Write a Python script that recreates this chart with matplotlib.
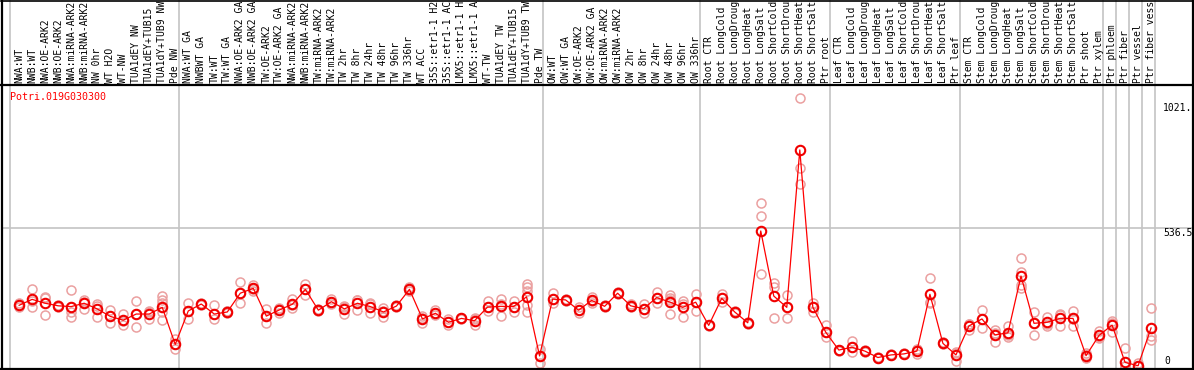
import matplotlib
matplotlib.use('Agg')
import matplotlib.pyplot as plt
from matplotlib.lines import Line2D
from matplotlib.transforms import blended_transform_factory as btf

title = "Potri.019G030300"

labels = [
    "NWA:WT", "NWB:WT", "NWA:OE-ARK2", "NWB:OE-ARK2", "NWA:miRNA-ARK2", "NWB:miRNA-ARK2",
    "NW 0hr", "WT H2O", "WT-NW", "TUA1dEY NW", "TUA1dEY+TUB15", "TUA1dY+TUB9 NW", "Pde NW",
    "NWA:WT GA", "NWBWT GA", "TW:WT", "TW:WT GA", "NWA:OE-ARK2 GA", "NWB:OE-ARK2 GA",
    "TW:OE-ARK2", "TW:OE-ARK2 GA", "NWA:miRNA-ARK2", "NWB:miRNA-ARK2", "TW:miRNA-ARK2",
    "TW:miRNA-ARK2", "TW 2hr", "TW 8hr", "TW 24hr", "TW 48hr", "TW 96hr", "TW 336hr",
    "WT ACC", "35S::etr1-1 H2", "35S::etr1-1 AC", "LMX5::etr1-1 H", "LMX5::etr1-1 A",
    "WT-TW", "TUA1dEY TW", "TUA1dEY+TUB15", "TUA1dY+TUB9 TW", "Pde TW",
    "OW:WT", "OW:WT GA", "OW:OE-ARK2", "OW:OE-ARK2 GA", "OW:miRNA-ARK2", "OW:miRNA-ARK2",
    "OW 2hr", "OW 8hr", "OW 24hr", "OW 48hr", "OW 96hr", "OW 336hr",
    "Root CTR", "Root LongCold", "Root LongDroug", "Root LongHeat", "Root LongSalt",
    "Root ShortCold", "Root ShortDrou", "Root ShortHeat", "Root ShortSalt", "Ptr root",
    "Leaf CTR", "Leaf LongCold", "Leaf LongDroug", "Leaf LongHeat", "Leaf LongSalt",
    "Leaf ShortCold", "Leaf ShortDrou", "Leaf ShortHeat", "Leaf ShortSalt", "Ptr leaf",
    "Stem CTR", "Stem LongCold", "Stem LongDroug", "Stem LongHeat", "Stem LongSalt",
    "Stem ShortCold", "Stem ShortDrou", "Stem ShortHeat", "Stem ShortSalt", "Ptr shoot",
    "Ptr xylem", "Ptr phloem", "Ptr fiber", "Ptr vessel", "Ptr fiber vess",
]

means = [
    236, 259, 244, 234, 231, 244, 222, 193, 178, 202, 202, 228, 84,
    214, 241, 202, 210, 283, 302, 194, 218, 240, 298, 217, 250, 222, 244, 231, 210, 233,
    298, 183, 205, 170, 185, 176, 229, 232, 231, 269, 39,
    260, 257, 217, 255, 232, 283, 234, 223, 266, 249, 228, 248,
    158, 263, 210, 168, 525, 272, 228, 840, 229, 131,
    62, 73, 58, 33, 43, 47, 58, 279, 88, 43,
    156, 183, 121, 129, 350, 166, 170, 185, 185, 40, 119,
    159, 14, 1, 148,
]

replicates = [
    [245, 236, 229], [298, 252, 228], [269, 263, 198], [238, 230], [295, 228, 209, 192],
    [257, 250, 222], [240, 233, 192], [218, 193, 168], [202, 174, 159], [253, 202, 153],
    [214, 210, 182], [273, 257, 244, 228, 211, 178], [104, 84, 65],
    [244, 214, 183], [245, 240, 238], [236, 202, 183], [215, 212, 205], [325, 283, 244],
    [315, 300, 292], [220, 194, 166], [226, 220, 205], [259, 236, 225], [319, 298, 276],
    [220, 217, 214], [259, 250, 241], [233, 230, 201], [257, 255, 218], [241, 245, 207],
    [224, 214, 192], [236, 233, 229], [308, 298, 290], [196, 187, 166], [218, 205, 198],
    [183, 170, 159], [188, 185, 182], [185, 183, 159], [253, 229, 214], [260, 240, 194],
    [253, 230, 211], [318, 306, 293, 269, 237, 211], [65, 39, 10],
    [283, 260, 245], [262, 258, 252], [228, 218, 205], [269, 252, 245], [236, 232, 228],
    [288, 283, 279], [241, 234, 228], [241, 222, 207], [288, 266, 246], [276, 263, 255, 201],
    [254, 240, 189], [279, 250, 214],
    [161, 158, 155], [280, 263, 250], [213, 210, 207], [171, 168, 165], [633, 583, 358],
    [322, 308, 187], [276, 228, 187], [1041, 769, 708], [244, 229, 211], [158, 131, 114],
    [64, 62, 58], [97, 73, 53], [62, 58, 54], [35, 33, 31], [45, 43, 41], [49, 47, 45],
    [66, 62, 45], [341, 250, 246], [92, 88, 84], [54, 52, 21],
    [165, 163, 140], [218, 183, 149], [140, 129, 94], [156, 120, 112], [419, 364, 315, 302],
    [209, 168, 121], [192, 162, 156], [201, 197, 157], [215, 183, 157], [49, 41, 30],
    [136, 113, 108],
    [175, 168, 133], [71, 0, 0], [13, 1, 0], [227, 118, 101],
]

group_bounds = [0, 13, 41, 53, 63, 73, 84, 85, 86, 87, 88]
ytick_values = [1021, 536.5, 0]
ytick_texts = ["1021.", "536.5", "0"]

W, H = 1194, 370
fig = plt.figure(figsize=(W / 100, H / 100), dpi=100)
fig.patch.set_facecolor('white')

x0, x1 = 10, 1155
ytop, ybot = 86, 368
ax = fig.add_axes([x0 / W, (H - ybot) / H, (x1 - x0) / W, (ybot - ytop) / H])
n = len(labels)
ax.set_xlim(0, n)
scale = (366 - 228) / 536.5
ax.set_ylim(-(368 - 366) / scale, (366 - 86) / scale)
ax.axis('off')

xs = [i + 0.7 for i in range(n)]

grid_c = '#c4c4c4'
tr_v = btf(ax.transData, fig.transFigure)
for b in group_bounds:
    fig.add_artist(Line2D([b, b], [0, 1], transform=tr_v, color=grid_c, lw=1.2, zorder=0))

tr_h = btf(fig.transFigure, ax.transData)
fig.add_artist(Line2D([2 / W, 1192 / W], [536.5, 536.5], transform=tr_h, color=grid_c, lw=1.2, zorder=0))

# replicate points
rx, ry = [], []
for x, reps in zip(xs, replicates):
    for r in reps:
        rx.append(x)
        ry.append(r)
ax.plot(rx, ry, 'o', mfc='none', mec='#eba0a0', ms=6.5, mew=1.1, ls='none', zorder=2, clip_on=False)

# mean line and points
ax.plot(xs, means, '-', color='#ff0000', lw=0.9, zorder=3)
ax.plot(xs, means, 'o', mfc='none', mec='#f00000', ms=6.8, mew=1.5, ls='none', zorder=4, clip_on=False)

# category labels
tr_lab = btf(ax.transData, fig.transFigure)
for x, lab in zip(xs, labels):
    fig.text(x, (H - 83) / H, lab, transform=tr_lab, rotation=90, ha='center', va='bottom',
             family='DejaVu Sans Mono', fontsize=7, color='black')

# title
fig.text(10 / W, (H - 97) / H, title, ha='left', va='center', family='DejaVu Sans Mono',
         fontsize=7.2, color='#ff0000')

# right axis labels
tr_r = btf(fig.transFigure, ax.transData)
for v, t in zip(ytick_values, ytick_texts):
    xx = 1163 / W if t != "0" else 1164 / W
    fig.text(xx, v, t, transform=tr_r, ha='left', va='top' if v > 0 else 'bottom',
             family='DejaVu Sans Mono', fontsize=7, color='black')

# borders
def hline(y, xa=1, xb=1193, lw=1.6):
    fig.add_artist(Line2D([xa / W, xb / W], [(H - y) / H, (H - y) / H], transform=fig.transFigure,
                          color='black', lw=lw, zorder=5))

def vline(x, ya=0, yb=369, lw=1.6):
    fig.add_artist(Line2D([x / W, x / W], [(H - ya) / H, (H - yb) / H], transform=fig.transFigure,
                          color='black', lw=lw, zorder=5))

hline(0.5, lw=1.2)
hline(85)
hline(368.5)
vline(1.5)
vline(1192.5)

fig.savefig('out.png', dpi=100)
